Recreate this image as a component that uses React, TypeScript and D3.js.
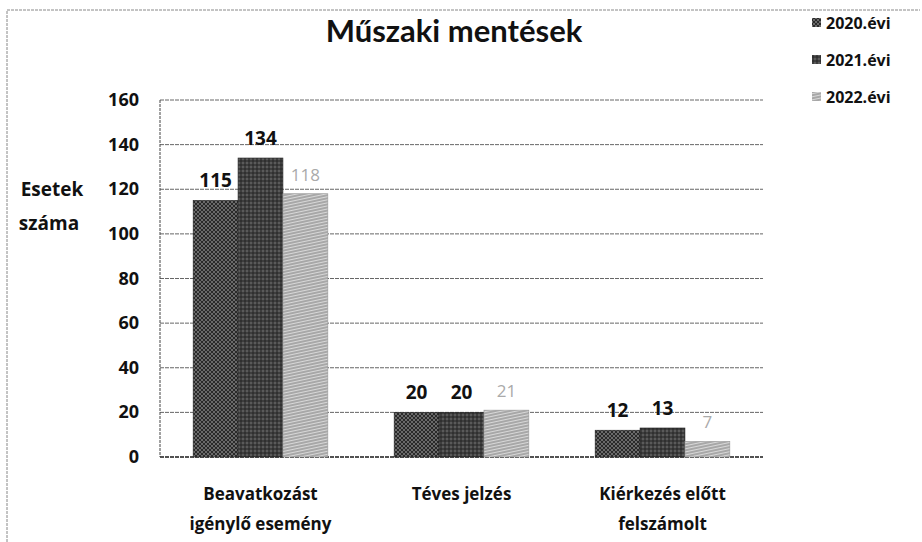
import React from "react";
import * as d3 from "d3";

const categories = [["Beavatkozást", "igénylő esemény"], ["Téves jelzés"], ["Kiérkezés előtt", "felszámolt"]];
const seriesNames = ["2020.évi", "2021.évi", "2022.évi"];
const values2020 = [115, 20, 12];
const values2021 = [134, 20, 13];
const values2022 = [118, 21, 7];
const yTicks = [0, 20, 40, 60, 80, 100, 120, 140, 160];

const W = 922, H = 542;
const M = { left: 160, right: 763, top: 100, bottom: 457 };
const FONT = "'Open Sans', sans-serif";

export default function App() {
  const series = [values2020, values2021, values2022];
  const x0 = d3.scaleBand().domain(categories.map((_, i) => String(i))).range([M.left, M.right]).paddingInner(0.33).paddingOuter(0.165);
  const x1 = d3.scaleBand().domain(seriesNames).range([0, x0.bandwidth()]);
  const y = d3.scaleLinear().domain([0, 160]).range([M.bottom, M.top]);
  const fills = ["url(#p2020)", "url(#p2021)", "url(#p2022)"];
  const labelColors = ["#111", "#111", "#aaa"];
  return (
    <svg width={W} height={H} style={{ position: "absolute", left: 0, top: 0, background: "#fff" }} fontFamily={FONT}>
      <defs>
        <pattern id="p2020" width="4" height="4" patternUnits="userSpaceOnUse">
          <rect width="4" height="4" fill="#6a6a6a" />
          <path d="M0,0 L4,4 M4,0 L0,4" stroke="#2a2a2a" strokeWidth="1" />
        </pattern>
        <pattern id="p2021" width="4" height="4" patternUnits="userSpaceOnUse">
          <rect width="4" height="4" fill="#5a5a5a" />
          <path d="M0,1 H4 M1,0 V4" stroke="#222" strokeWidth="1" />
        </pattern>
        <pattern id="p2022" width="6" height="3" patternUnits="userSpaceOnUse" patternTransform="rotate(-12)">
          <rect width="6" height="3" fill="#d8d8d8" />
          <path d="M0,1 H6" stroke="#777" strokeWidth="1" />
        </pattern>
      </defs>
      <path d={`M7,${H} V10 H920`} fill="none" stroke="#888" strokeWidth="1" strokeDasharray="3,1" />
      <text x={454} y={42} textAnchor="middle" fontSize={31} fontWeight="bold" fontFamily="Lato, sans-serif" fill="#111">Műszaki mentések</text>
      {yTicks.map((t) => (
        <g key={t}>
          <line x1={M.left} x2={M.right} y1={y(t)} y2={y(t)} stroke="#666" strokeWidth={1} strokeDasharray="4,1" />
          <text x={139} y={y(t) + 6} textAnchor="end" fontSize={18} fontWeight="bold" fill="#111">{t}</text>
        </g>
      ))}
      <line x1={M.left} x2={M.left} y1={M.top} y2={M.bottom} stroke="#444" strokeDasharray="3,1" />
      <line x1={M.left} x2={M.right} y1={M.bottom} y2={M.bottom} stroke="#333" strokeWidth={1.5} strokeDasharray="4,1" />
      <text x={52} y={196} textAnchor="middle" fontSize={19} fontWeight="bold" fill="#111">Esetek</text>
      <text x={49} y={230} textAnchor="middle" fontSize={19} fontWeight="bold" fill="#111">száma</text>
      {categories.map((cat, ci) => (
        <g key={ci}>
          {series.map((vals, si) => {
            const bx = (x0(String(ci)) as number) + (x1(seriesNames[si]) as number);
            const bw = x1.bandwidth();
            return (
              <g key={si}>
                <rect x={bx} y={y(vals[ci])} width={bw} height={y(0) - y(vals[ci])} fill={fills[si]} stroke={si === 2 ? "#999" : "#222"} strokeWidth={0.6} />
                <text x={bx + bw / 2} y={y(vals[ci]) - 13} textAnchor="middle" fontSize={si === 2 ? 17 : 19} fontWeight={si === 2 ? "normal" : "bold"} fill={labelColors[si]}>{vals[ci]}</text>
              </g>
            );
          })}
          {cat.map((line, li) => (
            <text key={li} x={(x0(String(ci)) as number) + x0.bandwidth() / 2} y={500 + li * 30} textAnchor="middle" fontSize={17} fontWeight="bold" fill="#111">{line}</text>
          ))}
        </g>
      ))}
      {seriesNames.map((s, i) => (
        <g key={s}>
          <rect x={812} y={18 + i * 37} width={9} height={9} fill={fills[i]} />
          <text x={826} y={29 + i * 37} fontSize={16} fontWeight="bold" fill="#111">{s}</text>
        </g>
      ))}
    </svg>
  );
}
